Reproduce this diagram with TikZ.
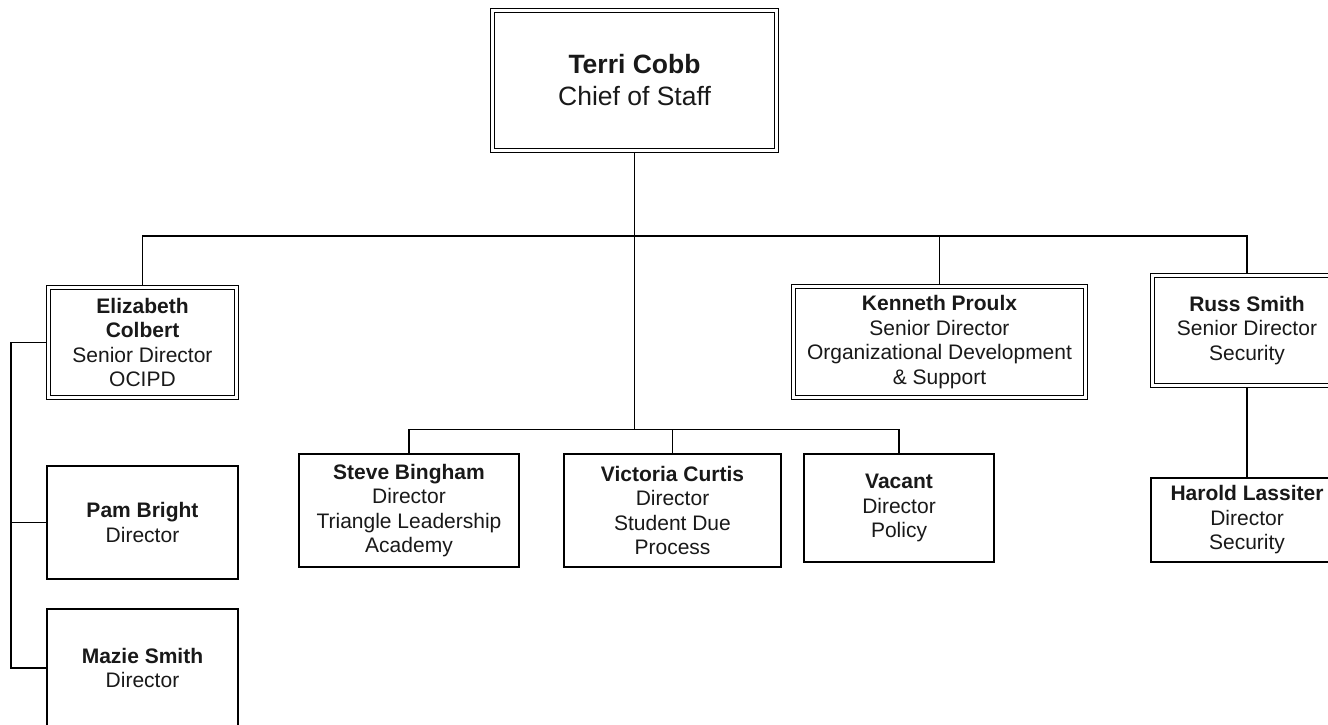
\documentclass[tikz,border=0pt]{standalone}
\usepackage{fontspec}
\setmainfont{Liberation Sans}
\usetikzlibrary{backgrounds}

\tikzset{
  orgtext/.style={align=center, inner sep=0pt, text=black!90,
    font=\fontsize{21}{24.5}\selectfont},
  singlebox/.style={orgtext, draw=black, line width=1.8pt, fill=white},
  doublebox/.style={orgtext, draw=black, line width=1.4pt,
    double=white, double distance=2.4pt, fill=white},
  link/.style={draw=black, line width=1.9pt, line cap=rect}
}

\begin{document}
\begin{tikzpicture}[x=1pt, y=-1pt]
\useasboundingbox (0,0) rectangle (1328,725);
\clip (0,0) rectangle (1328,725);

% chief of staff
\node[doublebox, minimum width=283.8pt, minimum height=139.8pt,
      font=\fontsize{26.5}{32}\selectfont] (terri) at (634.5,80.5)
  {\textbf{Terri Cobb}\\Chief of Staff};

% senior directors
\node[doublebox, minimum width=187.8pt, minimum height=109.8pt] (eliz) at (142.5,342.5)
  {\textbf{Elizabeth}\\\textbf{Colbert}\\Senior Director\\OCIPD};
\node[doublebox, minimum width=291.8pt, minimum height=110.8pt] (kenn) at (939.5,342)
  {\textbf{Kenneth Proulx}\\Senior Director\\Organizational Development\\\& Support};
\node[doublebox, minimum width=188.8pt, minimum height=109.8pt] (russ) at (1247,330.5)
  {\textbf{Russ Smith}\\Senior Director\\Security};

% directors reporting to the chief of staff
\node[singlebox, minimum width=220.2pt, minimum height=113.2pt] (steve) at (409,510.5)
  {\textbf{Steve Bingham}\\Director\\Triangle Leadership\\Academy};
\node[singlebox, minimum width=217.2pt, minimum height=113.2pt] (vict) at (672.5,510.5)
  {\textbf{Victoria Curtis}\\Director\\Student Due\\Process};
\node[singlebox, minimum width=190.2pt, minimum height=108.2pt] (vac) at (899,508)
  {\textbf{Vacant}\\Director\\Policy};

% directors under OCIPD
\node[singlebox, minimum width=191.2pt, minimum height=113.2pt] (pam) at (142.5,522.5)
  {\textbf{Pam Bright}\\Director};
\node[singlebox, minimum width=191.2pt, minimum height=118pt] (mazie) at (142.5,668)
  {\textbf{Mazie Smith}\\Director};

% director under security
\node[singlebox, minimum width=192.2pt, minimum height=84.2pt] (harold) at (1247,520)
  {\textbf{Harold Lassiter}\\Director\\Security};

% connectors
\coordinate (topbus) at (634.5,236);
\coordinate (midbus) at (634.5,429.5);
\coordinate (leftbus) at (11,342.5);
\begin{scope}[on background layer]
  \draw[link] (terri.south) -- (midbus);
  \draw[link] (eliz.north) |- (topbus) -| (russ.north);
  \draw[link] (kenn.north) -- (kenn.north |- topbus);
  \draw[link] (steve.north) |- (midbus) -| (vac.north);
  \draw[link] (vict.north) -- (vict.north |- midbus);
  \draw[link] (eliz.west) -- (leftbus) |- (mazie.west);
  \draw[link] (pam.west) -- (pam.west -| leftbus);
  \draw[link] (russ.south) -- (harold.north);
\end{scope}
\end{tikzpicture}
\end{document}
